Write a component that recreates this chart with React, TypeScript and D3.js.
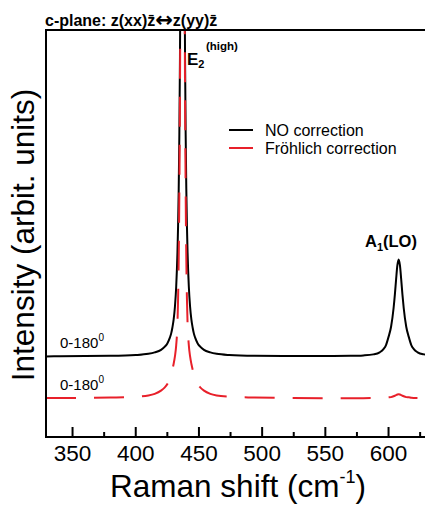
import React from 'react';
import * as d3 from 'd3';

const ramanShift = [329, 340, 360, 380, 400, 410, 415, 420, 423, 425, 427, 428, 429, 430, 431, 432, 433, 433.5, 434, 434.5, 435, 435.5, 436, 437, 438, 438.5, 439, 439.5, 440, 440.5, 441, 442, 443, 444, 445, 446, 447, 449, 451, 454, 459, 464, 474, 494, 520, 550, 570, 580, 588, 593, 596, 598, 600, 602, 604, 605, 606, 607, 608, 609, 610, 611, 612, 614, 616, 618, 620, 623, 628, 636, 645];

const noCorrection = [19.8, 19.85, 19.9, 19.95, 20.15, 20.45, 20.8, 21.4, 22.2, 23.0, 24.4, 25.4, 26.9, 28.9, 32.0, 36.9, 45.3, 51.9, 61.0, 74.3, 93.6, 121.8, 159.8, 219.8, 159.8, 121.8, 93.6, 74.3, 61.0, 51.9, 45.3, 36.9, 32.0, 28.9, 26.9, 25.4, 24.4, 23.0, 22.2, 21.4, 20.8, 20.45, 20.15, 19.95, 19.9, 19.9, 19.95, 20.05, 20.3, 20.8, 21.6, 22.6, 24.6, 27.1, 31.7, 35.0, 38.8, 42.2, 43.6, 42.2, 38.8, 35.0, 31.7, 27.1, 24.6, 22.6, 21.6, 20.8, 20.3, 20.05, 19.95];

const frohlichCorrection = [9.56, 9.57, 9.61, 9.7, 9.9, 10.2, 10.6, 11.4, 12.2, 13.0, 14.4, 15.4, 16.6, 18.0, 19.8, 22.5, 28.0, 34.0, 44.0, 60.0, 85.0, 125, 180, 280, 180, 125, 85.0, 60.0, 44.0, 34.0, 28.0, 22.5, 19.8, 18.0, 16.6, 15.4, 14.4, 13.0, 12.2, 11.4, 10.6, 10.2, 9.9, 9.7, 9.6, 9.55, 9.55, 9.55, 9.57, 9.6, 9.65, 9.7, 9.75, 9.8, 10.0, 10.14, 10.3, 10.44, 10.5, 10.44, 10.3, 10.14, 10.0, 9.8, 9.75, 9.65, 9.6, 9.57, 9.55, 9.52, 9.5];

const majorTicks = [350, 400, 450, 500, 550, 600];
const minorTicks = [375, 425, 475, 525, 575, 625];
const seriesNames = ['NO correction', 'Fröhlich correction'];
const seriesColors = ['#000000', '#e8202a'];

const FONT = '"Liberation Sans", Arial, Helvetica, sans-serif';

export default function App() {
  const W = 425;
  const H = 510;
  const left = 46;
  const top = 30;
  const bottom = 437;
  const x = d3.scaleLinear().domain([329, 640]).range([46, 439.1]);
  const y = d3.scaleLinear().domain([0, 100]).range([bottom, top]);
  const right = x(640);

  const makeLine = (vals: number[]) =>
    d3
      .line<number>()
      .x((_, i) => x(ramanShift[i]))
      .y((d) => y(d))
      .curve(d3.curveMonotoneX)(vals) || '';

  return (
    <svg
      width={W}
      height={H}
      style={{ position: 'absolute', left: 0, top: 0, background: '#fff' }}
      fontFamily={FONT}
    >
      <defs>
        <clipPath id="plotClip">
          <rect x={left} y={top} width={right - left} height={bottom - top} />
        </clipPath>
      </defs>

      {/* title */}
      <text x={45} y={26} fontSize={16} fontWeight="bold" fill="#000">
        c-plane: z(xx)z̄
        <tspan fontFamily='"DejaVu Sans", sans-serif' fontSize={21} dy={1}>↔</tspan>
        <tspan dy={-1}>z(yy)z̄</tspan>
      </text>

      {/* curves */}
      <g clipPath="url(#plotClip)">
        <path d={makeLine(noCorrection)} fill="none" stroke={seriesColors[0]} strokeWidth={2} />
        <path
          d={makeLine(frohlichCorrection)}
          fill="none"
          stroke={seriesColors[1]}
          strokeWidth={2}
          strokeDasharray="30 18"
        />
      </g>

      {/* frame */}
      <rect x={left} y={top} width={right - left} height={bottom - top} fill="none" stroke="#000" strokeWidth={2} />

      {/* ticks */}
      {majorTicks.map((t) => (
        <g key={'M' + t}>
          <line x1={x(t)} x2={x(t)} y1={bottom} y2={bottom - 10} stroke="#000" strokeWidth={2} />
          <text x={x(t)} y={461} fontSize={22.5} textAnchor="middle" fill="#000">
            {t}
          </text>
        </g>
      ))}
      {minorTicks.map((t) => (
        <line key={'m' + t} x1={x(t)} x2={x(t)} y1={bottom} y2={bottom - 5} stroke="#000" strokeWidth={2} />
      ))}

      {/* axis titles */}
      <text x={238} y={497} fontSize={31.5} textAnchor="middle" fill="#000">
        Raman shift (cm
        <tspan fontSize={18} dy={-14}>-1</tspan>
        <tspan dy={14}>)</tspan>
      </text>
      <text
        transform="translate(34,235) rotate(-90)"
        fontSize={31.5}
        textAnchor="middle"
        fill="#000"
      >
        Intensity (arbit. units)
      </text>

      {/* peak labels */}
      <text x={187} y={65} fontSize={17} fontWeight="bold" fill="#000">
        E
        <tspan fontSize={11} dy={3}>2</tspan>
        <tspan fontSize={11.5} dy={-18} dx={1.5}>(high)</tspan>
      </text>
      <text x={365} y={247} fontSize={16.5} fontWeight="bold" fill="#000">
        A
        <tspan fontSize={11} dy={4}>1</tspan>
        <tspan dy={-4}>(LO)</tspan>
      </text>

      {/* angle labels */}
      <text x={60} y={348} fontSize={15} fill="#000">
        0-180
        <tspan fontSize={10} dy={-7}>0</tspan>
      </text>
      <text x={60} y={390} fontSize={15} fill="#000">
        0-180
        <tspan fontSize={10} dy={-7}>0</tspan>
      </text>

      {/* legend */}
      {seriesNames.map((name, i) => (
        <g key={name}>
          <line x1={229} x2={253} y1={130 + i * 18} y2={130 + i * 18} stroke={seriesColors[i]} strokeWidth={2} />
          <text x={265} y={136 + i * 18} fontSize={16} fill="#000">
            {name}
          </text>
        </g>
      ))}
    </svg>
  );
}
